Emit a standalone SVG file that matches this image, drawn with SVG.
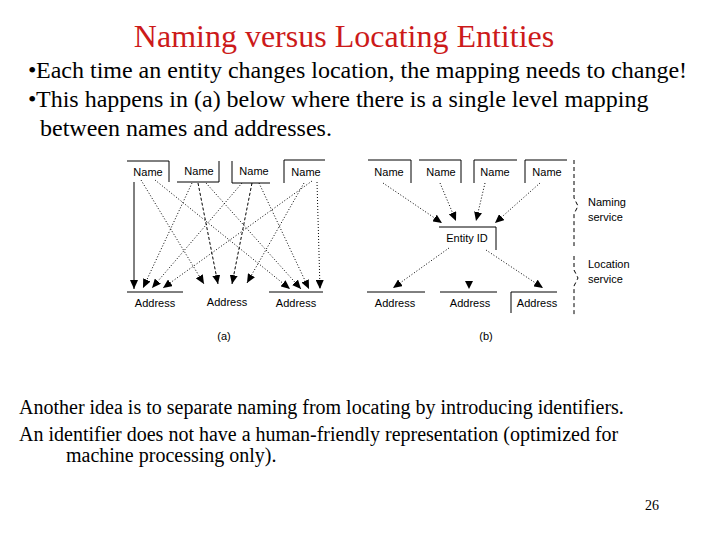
<svg xmlns="http://www.w3.org/2000/svg" width="720" height="540" viewBox="0 0 720 540">
<style>
.title{font-family:"Liberation Serif",serif;font-size:32px;fill:#cc1a1a}
.body{font-family:"Liberation Serif",serif;font-size:24px;fill:#000}
.small{font-family:"Liberation Serif",serif;font-size:20px;fill:#000}
.lbl{font-family:"Liberation Sans",Arial,sans-serif;font-size:11px;fill:#000}
.box{fill:none;stroke:#000;stroke-width:1}
.dot{fill:none;stroke:#000;stroke-width:1;stroke-dasharray:1 2;marker-end:url(#ah)}
.dash{fill:none;stroke:#000;stroke-width:1;stroke-dasharray:3 2;marker-end:url(#ah)}
.solid{fill:none;stroke:#000;stroke-width:1;marker-end:url(#ah)}
.brace{fill:none;stroke:#000;stroke-width:1;stroke-dasharray:4 3}
</style>
<defs>
<marker id="ah" markerUnits="userSpaceOnUse" markerWidth="9" markerHeight="8" refX="9" refY="4" orient="auto">
<path d="M0,0 L9,4 L0,8 z" fill="#000"/>
</marker>
</defs>
<rect width="720" height="540" fill="#fff"/>
<text class="title" x="344" y="47" text-anchor="middle">Naming versus Locating Entities</text>
<text class="body" x="28" y="78">•</text>
<text class="body" x="36" y="78">Each time an entity changes location, the mapping needs to change!</text>
<text class="body" x="28" y="107">•</text>
<text class="body" x="36" y="107">This happens in (a) below where there is a single level mapping</text>
<text class="body" x="40" y="136">between names and addresses.</text>

<g id="a-name1"><path class="box" d="M127,161 H169 V182"/><text class="lbl" x="148" y="176" text-anchor="middle">Name</text></g>
<g id="a-name2"><path class="box" d="M177,182 H219 V161"/><text class="lbl" x="199" y="175" text-anchor="middle">Name</text></g>
<g id="a-name3"><path class="box" d="M232,161 V183 H270"/><text class="lbl" x="254" y="175" text-anchor="middle">Name</text></g>
<g id="a-name4"><path class="box" d="M284,183 V160 H325"/><text class="lbl" x="306" y="176" text-anchor="middle">Name</text></g>
<g id="a-addr1"><path class="box" d="M127,292 H183"/><text class="lbl" x="155" y="307" text-anchor="middle">Address</text></g>
<g id="a-addr2"><text class="lbl" x="227" y="306" text-anchor="middle">Address</text></g>
<g id="a-addr3"><path class="box" d="M269,292 H323"/><text class="lbl" x="296" y="307" text-anchor="middle">Address</text></g>
<g id="a-label"><text class="lbl" x="224" y="340" text-anchor="middle">(a)</text></g>

<g id="b-name1"><path class="box" d="M368,160 H411 V183"/><text class="lbl" x="389" y="176" text-anchor="middle">Name</text></g>
<g id="b-name2"><path class="box" d="M419,160 H461 V183"/><text class="lbl" x="441" y="176" text-anchor="middle">Name</text></g>
<g id="b-name3"><path class="box" d="M474,183 V160 H517"/><text class="lbl" x="495" y="176" text-anchor="middle">Name</text></g>
<g id="b-name4"><path class="box" d="M525,183 V160 H567"/><text class="lbl" x="547" y="176" text-anchor="middle">Name</text></g>
<g id="b-entity"><path class="box" d="M439,227 H496 V250"/><text class="lbl" x="467" y="242" text-anchor="middle">Entity ID</text></g>
<g id="b-addr1"><path class="box" d="M367,292 H425"/><text class="lbl" x="395" y="307" text-anchor="middle">Address</text></g>
<g id="b-addr2"><path class="box" d="M440,292 H497"/><text class="lbl" x="470" y="307" text-anchor="middle">Address</text></g>
<g id="b-addr3"><path class="box" d="M511,313 V292 H557"/><text class="lbl" x="537" y="307" text-anchor="middle">Address</text></g>
<g id="b-label"><text class="lbl" x="486" y="340" text-anchor="middle">(b)</text></g>

<g id="services">
<path class="brace" d="M574,160 V198 L578,206 L574,214 V246"/>
<path class="brace" d="M574,256 V270 L578,278 L574,286 V316"/>
<text class="lbl" x="588" y="206">Naming</text>
<text class="lbl" x="588" y="221">service</text>
<text class="lbl" x="588" y="268">Location</text>
<text class="lbl" x="588" y="283">service</text>
</g>

<g id="connectors">
<path class="solid" d="M134,182 V289"/>
<path class="dot" d="M141,180 L204,284"/>
<path class="dot" d="M155,180 L290,289"/>
<path class="dot" d="M192,183 L143,288"/>
<path class="dash" d="M198,183 L218,284"/>
<path class="dot" d="M206,183 L301,289"/>
<path class="dot" d="M242,183 L152,288"/>
<path class="dash" d="M252,183 L232,284"/>
<path class="dot" d="M259,183 L309,289"/>
<path class="dot" d="M312,181 L163,288"/>
<path class="dot" d="M304,183 L247,283"/>
<path class="dot" d="M317,182 L320,289"/>

<path class="dot" d="M383,183 L442,223"/>
<path class="dot" d="M440,183 L456,221"/>
<path class="dot" d="M485,183 L476,221"/>
<path class="dot" d="M540,183 L495,223"/>
<path class="dot" d="M449,248 L393,288"/>
<path class="dot" d="M486,250 L543,288"/>
<path d="M465,281 L473,281 L469,289 z" fill="#000"/>
</g>

<text class="small" x="19" y="414">Another idea is to separate naming from locating by introducing identifiers.</text>
<text class="small" x="19" y="441">An identifier does not have a human-friendly representation (optimized for</text>
<text class="small" x="66" y="462">machine processing only).</text>
<text font-family="Liberation Serif, serif" font-size="14" x="645" y="510">26</text>
</svg>
